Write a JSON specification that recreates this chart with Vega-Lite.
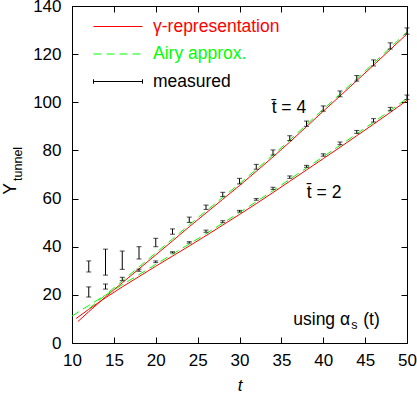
{
  "$schema": "https://vega.github.io/schema/vega-lite/v6.json",
  "width": 335,
  "height": 337,
  "autosize": {"type": "none"},
  "padding": {"left": 72, "top": 6, "right": 10, "bottom": 51},
  "background": "white",
  "config": {
    "font": "Liberation Sans",
    "view": {"stroke": "black", "strokeWidth": 1},
    "axis": {"grid": false, "domain": false, "tickColor": "black", "tickSize": -6, "tickWidth": 1,
             "labelFont": "Liberation Sans", "labelFontSize": 17, "labelColor": "black",
             "titleFont": "Liberation Sans", "titleFontSize": 17, "titleColor": "black", "titleFontWeight": "normal"}
  },
  "datasets": {
    "curves": [
      {"kind": "γ-representation", "tbar": 4, "t": 10.7, "Y": 8.9},
      {"kind": "γ-representation", "tbar": 4, "t": 12, "Y": 13.0},
      {"kind": "γ-representation", "tbar": 4, "t": 14, "Y": 19.2},
      {"kind": "γ-representation", "tbar": 4, "t": 16, "Y": 25.0},
      {"kind": "γ-representation", "tbar": 4, "t": 18, "Y": 30.8},
      {"kind": "γ-representation", "tbar": 4, "t": 20, "Y": 36.6},
      {"kind": "γ-representation", "tbar": 4, "t": 22, "Y": 42.4},
      {"kind": "γ-representation", "tbar": 4, "t": 24, "Y": 48.3},
      {"kind": "γ-representation", "tbar": 4, "t": 26, "Y": 54.0},
      {"kind": "γ-representation", "tbar": 4, "t": 28, "Y": 59.7},
      {"kind": "γ-representation", "tbar": 4, "t": 30, "Y": 65.4},
      {"kind": "γ-representation", "tbar": 4, "t": 32, "Y": 71.3},
      {"kind": "γ-representation", "tbar": 4, "t": 34, "Y": 77.3},
      {"kind": "γ-representation", "tbar": 4, "t": 36, "Y": 83.5},
      {"kind": "γ-representation", "tbar": 4, "t": 38, "Y": 89.9},
      {"kind": "γ-representation", "tbar": 4, "t": 40, "Y": 96.3},
      {"kind": "γ-representation", "tbar": 4, "t": 42, "Y": 102.6},
      {"kind": "γ-representation", "tbar": 4, "t": 44, "Y": 109.0},
      {"kind": "γ-representation", "tbar": 4, "t": 46, "Y": 115.4},
      {"kind": "γ-representation", "tbar": 4, "t": 48, "Y": 121.9},
      {"kind": "γ-representation", "tbar": 4, "t": 50, "Y": 128.4},
      {"kind": "γ-representation", "tbar": 2, "t": 10.5, "Y": 10.2},
      {"kind": "γ-representation", "tbar": 2, "t": 12, "Y": 14.0},
      {"kind": "γ-representation", "tbar": 2, "t": 14, "Y": 18.8},
      {"kind": "γ-representation", "tbar": 2, "t": 16, "Y": 23.3},
      {"kind": "γ-representation", "tbar": 2, "t": 18, "Y": 27.6},
      {"kind": "γ-representation", "tbar": 2, "t": 20, "Y": 31.9},
      {"kind": "γ-representation", "tbar": 2, "t": 22, "Y": 36.1},
      {"kind": "γ-representation", "tbar": 2, "t": 24, "Y": 40.3},
      {"kind": "γ-representation", "tbar": 2, "t": 26, "Y": 44.6},
      {"kind": "γ-representation", "tbar": 2, "t": 28, "Y": 49.0},
      {"kind": "γ-representation", "tbar": 2, "t": 30, "Y": 53.4},
      {"kind": "γ-representation", "tbar": 2, "t": 32, "Y": 57.9},
      {"kind": "γ-representation", "tbar": 2, "t": 34, "Y": 62.5},
      {"kind": "γ-representation", "tbar": 2, "t": 36, "Y": 67.2},
      {"kind": "γ-representation", "tbar": 2, "t": 38, "Y": 71.9},
      {"kind": "γ-representation", "tbar": 2, "t": 40, "Y": 76.6},
      {"kind": "γ-representation", "tbar": 2, "t": 42, "Y": 81.3},
      {"kind": "γ-representation", "tbar": 2, "t": 44, "Y": 86.1},
      {"kind": "γ-representation", "tbar": 2, "t": 46, "Y": 90.9},
      {"kind": "γ-representation", "tbar": 2, "t": 48, "Y": 95.8},
      {"kind": "γ-representation", "tbar": 2, "t": 50, "Y": 100.8}
    ],
    "airy": [
      {"kind": "Airy approx.", "tbar": 4, "t": 12, "Y": 14.2},
      {"kind": "Airy approx.", "tbar": 4, "t": 14, "Y": 20.0},
      {"kind": "Airy approx.", "tbar": 4, "t": 16, "Y": 25.8},
      {"kind": "Airy approx.", "tbar": 4, "t": 18, "Y": 31.6},
      {"kind": "Airy approx.", "tbar": 4, "t": 20, "Y": 37.4},
      {"kind": "Airy approx.", "tbar": 4, "t": 22, "Y": 43.2},
      {"kind": "Airy approx.", "tbar": 4, "t": 24, "Y": 49.1},
      {"kind": "Airy approx.", "tbar": 4, "t": 26, "Y": 54.8},
      {"kind": "Airy approx.", "tbar": 4, "t": 28, "Y": 60.5},
      {"kind": "Airy approx.", "tbar": 4, "t": 30, "Y": 66.2},
      {"kind": "Airy approx.", "tbar": 4, "t": 32, "Y": 72.1},
      {"kind": "Airy approx.", "tbar": 4, "t": 34, "Y": 78.1},
      {"kind": "Airy approx.", "tbar": 4, "t": 36, "Y": 84.3},
      {"kind": "Airy approx.", "tbar": 4, "t": 38, "Y": 90.7},
      {"kind": "Airy approx.", "tbar": 4, "t": 40, "Y": 97.1},
      {"kind": "Airy approx.", "tbar": 4, "t": 42, "Y": 103.4},
      {"kind": "Airy approx.", "tbar": 4, "t": 44, "Y": 109.8},
      {"kind": "Airy approx.", "tbar": 4, "t": 46, "Y": 116.2},
      {"kind": "Airy approx.", "tbar": 4, "t": 48, "Y": 122.7},
      {"kind": "Airy approx.", "tbar": 4, "t": 50, "Y": 129.2},
      {"kind": "Airy approx.", "tbar": 2, "t": 10, "Y": 11.2},
      {"kind": "Airy approx.", "tbar": 2, "t": 12, "Y": 15.6},
      {"kind": "Airy approx.", "tbar": 2, "t": 14, "Y": 19.9},
      {"kind": "Airy approx.", "tbar": 2, "t": 16, "Y": 24.2},
      {"kind": "Airy approx.", "tbar": 2, "t": 18, "Y": 28.4},
      {"kind": "Airy approx.", "tbar": 2, "t": 20, "Y": 32.7},
      {"kind": "Airy approx.", "tbar": 2, "t": 22, "Y": 36.9},
      {"kind": "Airy approx.", "tbar": 2, "t": 24, "Y": 41.1},
      {"kind": "Airy approx.", "tbar": 2, "t": 26, "Y": 45.4},
      {"kind": "Airy approx.", "tbar": 2, "t": 28, "Y": 49.8},
      {"kind": "Airy approx.", "tbar": 2, "t": 30, "Y": 54.2},
      {"kind": "Airy approx.", "tbar": 2, "t": 32, "Y": 58.7},
      {"kind": "Airy approx.", "tbar": 2, "t": 34, "Y": 63.3},
      {"kind": "Airy approx.", "tbar": 2, "t": 36, "Y": 68.0},
      {"kind": "Airy approx.", "tbar": 2, "t": 38, "Y": 72.7},
      {"kind": "Airy approx.", "tbar": 2, "t": 40, "Y": 77.4},
      {"kind": "Airy approx.", "tbar": 2, "t": 42, "Y": 82.1},
      {"kind": "Airy approx.", "tbar": 2, "t": 44, "Y": 86.9},
      {"kind": "Airy approx.", "tbar": 2, "t": 46, "Y": 91.7},
      {"kind": "Airy approx.", "tbar": 2, "t": 48, "Y": 96.6},
      {"kind": "Airy approx.", "tbar": 2, "t": 50, "Y": 101.6}
    ],
    "measured": [
      {"kind": "measured", "tbar": 4, "t": 12, "lo": 29.5, "hi": 34.1},
      {"kind": "measured", "tbar": 4, "t": 14, "lo": 28.2, "hi": 39.0},
      {"kind": "measured", "tbar": 4, "t": 16, "lo": 30.6, "hi": 38.2},
      {"kind": "measured", "tbar": 4, "t": 18, "lo": 34.9, "hi": 40.0},
      {"kind": "measured", "tbar": 4, "t": 20, "lo": 40.0, "hi": 43.5},
      {"kind": "measured", "tbar": 4, "t": 22, "lo": 45.2, "hi": 47.4},
      {"kind": "measured", "tbar": 4, "t": 24, "lo": 50.1, "hi": 52.3},
      {"kind": "measured", "tbar": 4, "t": 26, "lo": 55.5, "hi": 57.3},
      {"kind": "measured", "tbar": 4, "t": 28, "lo": 60.8, "hi": 62.6},
      {"kind": "measured", "tbar": 4, "t": 30, "lo": 66.1, "hi": 68.4},
      {"kind": "measured", "tbar": 4, "t": 32, "lo": 72.2, "hi": 74.2},
      {"kind": "measured", "tbar": 4, "t": 34, "lo": 78.1, "hi": 80.2},
      {"kind": "measured", "tbar": 4, "t": 36, "lo": 84.1, "hi": 86.1},
      {"kind": "measured", "tbar": 4, "t": 38, "lo": 90.0, "hi": 92.2},
      {"kind": "measured", "tbar": 4, "t": 40, "lo": 96.3, "hi": 98.5},
      {"kind": "measured", "tbar": 4, "t": 42, "lo": 102.3, "hi": 104.7},
      {"kind": "measured", "tbar": 4, "t": 44, "lo": 108.8, "hi": 111.1},
      {"kind": "measured", "tbar": 4, "t": 46, "lo": 115.1, "hi": 117.6},
      {"kind": "measured", "tbar": 4, "t": 48, "lo": 122.1, "hi": 124.7},
      {"kind": "measured", "tbar": 4, "t": 50, "lo": 128.3, "hi": 130.9},
      {"kind": "measured", "tbar": 2, "t": 12, "lo": 19.1, "hi": 23.3},
      {"kind": "measured", "tbar": 2, "t": 14, "lo": 22.4, "hi": 24.5},
      {"kind": "measured", "tbar": 2, "t": 16, "lo": 25.9, "hi": 27.3},
      {"kind": "measured", "tbar": 2, "t": 18, "lo": 29.8, "hi": 30.7},
      {"kind": "measured", "tbar": 2, "t": 20, "lo": 33.4, "hi": 34.1},
      {"kind": "measured", "tbar": 2, "t": 22, "lo": 37.4, "hi": 37.9},
      {"kind": "measured", "tbar": 2, "t": 24, "lo": 41.5, "hi": 42.1},
      {"kind": "measured", "tbar": 2, "t": 26, "lo": 46.0, "hi": 46.9},
      {"kind": "measured", "tbar": 2, "t": 28, "lo": 50.0, "hi": 50.8},
      {"kind": "measured", "tbar": 2, "t": 30, "lo": 54.4, "hi": 55.1},
      {"kind": "measured", "tbar": 2, "t": 32, "lo": 59.3, "hi": 60.0},
      {"kind": "measured", "tbar": 2, "t": 34, "lo": 63.8, "hi": 64.7},
      {"kind": "measured", "tbar": 2, "t": 36, "lo": 68.4, "hi": 69.4},
      {"kind": "measured", "tbar": 2, "t": 38, "lo": 73.0, "hi": 73.8},
      {"kind": "measured", "tbar": 2, "t": 40, "lo": 77.6, "hi": 78.6},
      {"kind": "measured", "tbar": 2, "t": 42, "lo": 82.4, "hi": 83.5},
      {"kind": "measured", "tbar": 2, "t": 44, "lo": 87.1, "hi": 88.3},
      {"kind": "measured", "tbar": 2, "t": 46, "lo": 91.8, "hi": 93.2},
      {"kind": "measured", "tbar": 2, "t": 48, "lo": 96.5, "hi": 97.9},
      {"kind": "measured", "tbar": 2, "t": 50, "lo": 101.2, "hi": 103.0}
    ],
    "labels": [
      {"t": 35.9, "Y": 95.6, "text": "t̄ = 4"},
      {"t": 40.1, "Y": 60.4, "text": "t̄ = 2"}
    ],
    "note": [
      {"t": 36.42, "Y": 7.5}
    ],
    "ytitle": [
      {"t": 3.3, "Y": 64.0}
    ]
  },
  "resolve": {"axis": {"x": "independent", "y": "independent"}},
  "layer": [
    {
      "data": {"name": "curves"},
      "mark": {"type": "line", "strokeWidth": 1, "clip": true},
      "encoding": {
        "x": {"field": "t", "type": "quantitative", "scale": {"domain": [10, 50], "nice": false},
              "axis": {"orient": "bottom", "values": [10, 15, 20, 25, 30, 35, 40, 45, 50], "title": "t", "titleFontStyle": "italic", "labelPadding": 15, "titlePadding": 9, "labelFlush": false}},
        "y": {"field": "Y", "type": "quantitative", "scale": {"domain": [0, 140], "nice": false},
              "axis": {"orient": "left", "values": [0, 20, 40, 60, 80, 100, 120, 140], "title": null, "labelPadding": 17}},
        "color": {"field": "kind", "type": "nominal",
                  "scale": {"domain": ["γ-representation", "Airy approx.", "measured"], "range": ["#ff0000", "#00ff00", "#000000"]},
                  "legend": {"orient": "none", "legendX": 21, "legendY": 7.25, "title": null, "padding": 0,
                             "symbolSize": 2401, "symbolStrokeWidth": 1, "clipHeight": 26.5, "rowPadding": 0.5,
                             "labelFont": "Liberation Sans", "labelFontSize": 17.5, "labelOffset": 10, "labelLimit": 300,
                             "encode": {
                               "labels": {"update": {"fill": {"signal": "scale('color', datum.value)"}}},
                               "symbols": {"update": {
                                 "shape": {"signal": "datum.value === 'measured' ? 'M-1,-0.09V0.09M-1,0H1M1,-0.09V0.09' : 'stroke'"},
                                 "strokeDash": {"signal": "datum.value === 'Airy approx.' ? [8,5] : null"},
                                 "fill": {"value": "transparent"},
                                 "stroke": {"signal": "scale('color', datum.value)"},
                                 "opacity": {"value": 1}
                               }}
                             }}},
        "detail": {"field": "tbar", "type": "nominal"}
      }
    },
    {
      "data": {"name": "airy"},
      "mark": {"type": "line", "strokeWidth": 1, "strokeDash": [8, 5], "clip": true},
      "encoding": {
        "x": {"field": "t", "type": "quantitative", "axis": {"orient": "top", "values": [10, 15, 20, 25, 30, 35, 40, 45, 50], "labels": false, "title": null}},
        "y": {"field": "Y", "type": "quantitative", "axis": {"orient": "right", "values": [0, 20, 40, 60, 80, 100, 120, 140], "labels": false, "title": null}},
        "color": {"field": "kind", "type": "nominal"},
        "detail": {"field": "tbar", "type": "nominal"}
      }
    },
    {
      "data": {"name": "measured"},
      "mark": {"type": "rule", "strokeWidth": 1},
      "encoding": {
        "x": {"field": "t", "type": "quantitative", "axis": null},
        "y": {"field": "lo", "type": "quantitative", "axis": null},
        "y2": {"field": "hi"},
        "color": {"field": "kind", "type": "nominal"}
      }
    },
    {
      "data": {"name": "measured"},
      "mark": {"type": "tick", "orient": "horizontal", "size": 5, "thickness": 1},
      "encoding": {
        "x": {"field": "t", "type": "quantitative", "axis": null},
        "y": {"field": "lo", "type": "quantitative", "axis": null},
        "color": {"field": "kind", "type": "nominal"}
      }
    },
    {
      "data": {"name": "measured"},
      "mark": {"type": "tick", "orient": "horizontal", "size": 5, "thickness": 1},
      "encoding": {
        "x": {"field": "t", "type": "quantitative", "axis": null},
        "y": {"field": "hi", "type": "quantitative", "axis": null},
        "color": {"field": "kind", "type": "nominal"}
      }
    },
    {
      "data": {"name": "labels"},
      "mark": {"type": "text", "fontSize": 17.5, "align": "center", "baseline": "alphabetic", "color": "black"},
      "encoding": {
        "x": {"field": "t", "type": "quantitative", "axis": null},
        "y": {"field": "Y", "type": "quantitative", "axis": null},
        "text": {"field": "text"}
      }
    },
    {
      "data": {"name": "note"},
      "mark": {"type": "text", "fontSize": 17.5, "align": "left", "baseline": "alphabetic", "color": "black", "text": "using α"},
      "encoding": {
        "x": {"field": "t", "type": "quantitative", "axis": null},
        "y": {"field": "Y", "type": "quantitative", "axis": null}
      }
    },
    {
      "data": {"name": "note"},
      "mark": {"type": "text", "fontSize": 12.5, "align": "left", "baseline": "alphabetic", "color": "black", "text": "s", "dx": 58, "dy": 4},
      "encoding": {
        "x": {"field": "t", "type": "quantitative", "axis": null},
        "y": {"field": "Y", "type": "quantitative", "axis": null}
      }
    },
    {
      "data": {"name": "note"},
      "mark": {"type": "text", "fontSize": 17.5, "align": "left", "baseline": "alphabetic", "color": "black", "text": "(t)", "dx": 70},
      "encoding": {
        "x": {"field": "t", "type": "quantitative", "axis": null},
        "y": {"field": "Y", "type": "quantitative", "axis": null}
      }
    },
    {
      "data": {"name": "ytitle"},
      "mark": {"type": "text", "fontSize": 17.5, "align": "center", "baseline": "alphabetic", "color": "black", "text": "Y", "angle": 270},
      "encoding": {
        "x": {"field": "t", "type": "quantitative", "axis": null},
        "y": {"field": "Y", "type": "quantitative", "axis": null}
      }
    },
    {
      "data": {"name": "ytitle"},
      "mark": {"type": "text", "fontSize": 12.5, "align": "left", "baseline": "alphabetic", "color": "black", "text": "tunnel", "angle": 270, "dx": 8, "dy": 6},
      "encoding": {
        "x": {"field": "t", "type": "quantitative", "axis": null},
        "y": {"field": "Y", "type": "quantitative", "axis": null}
      }
    }
  ]
}
